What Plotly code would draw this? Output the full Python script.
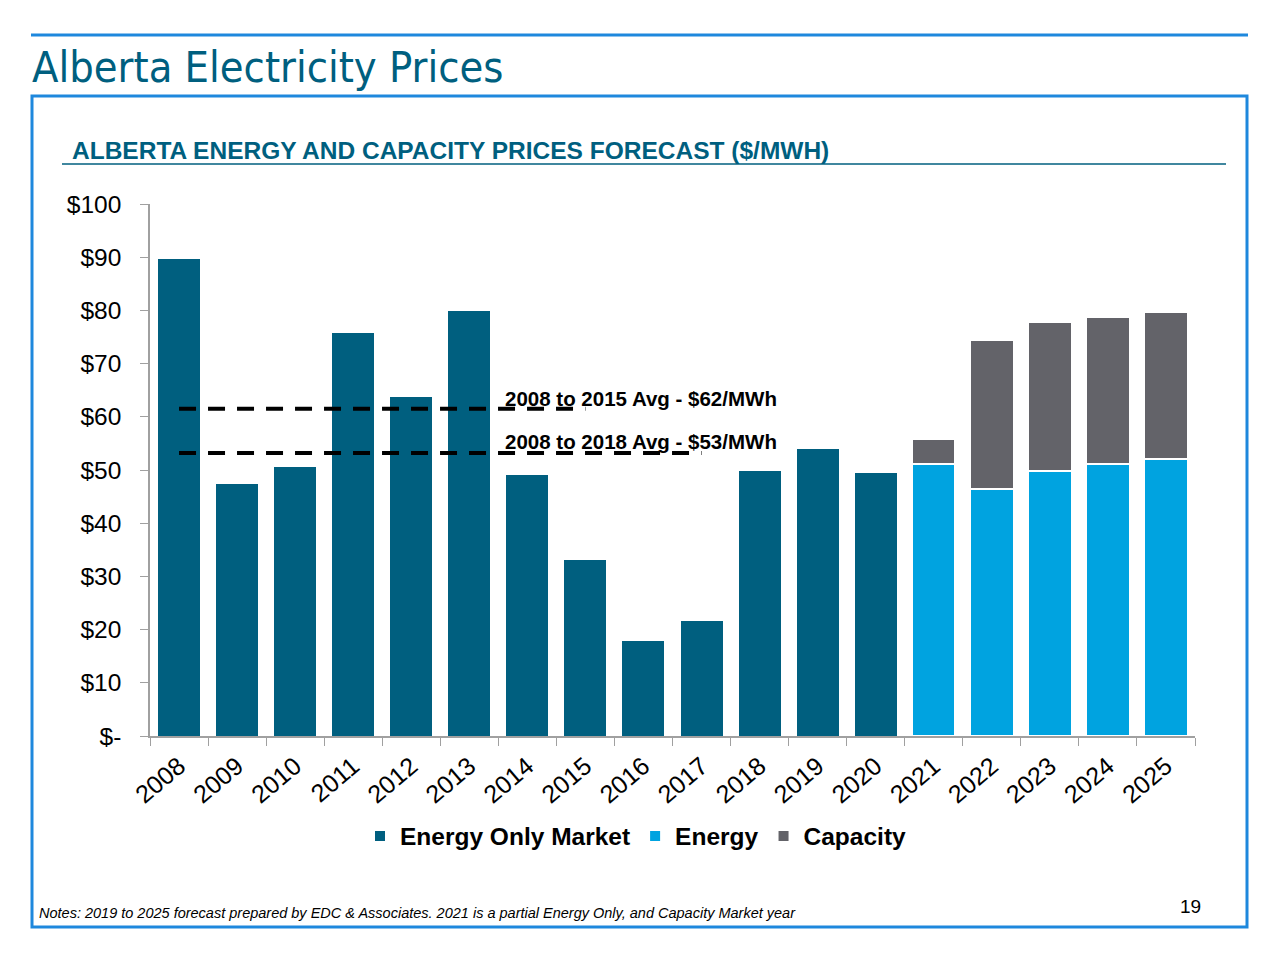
import plotly.graph_objects as go

years = [str(y) for y in range(2008, 2026)]
eom_years = years[:13]
eom_values = [89.7, 47.4, 50.6, 75.9, 63.9, 79.9, 49.1, 33.1, 18.0, 21.8, 50.0, 54.1, 49.6]
fc_years = years[13:]
energy_values = [51.1, 46.4, 49.8, 51.1, 52.1]
capacity_values = [4.7, 28.0, 28.0, 27.7, 27.6]
avg_2015 = 61.5
avg_2015_span = ["2008", "2015"]
avg_2018 = 53.2
avg_2018_span = ["2008", "2017"]
y_ticks = [0, 10, 20, 30, 40, 50, 60, 70, 80, 90, 100]
y_tick_labels = ["$-"] + [f"${v}" for v in y_ticks[1:]]

C_EOM = "#005F7F"
C_EN = "#00A3E0"
C_CAP = "#636369"
C_TITLE = "#005F7F"
C_BORDER = "#1E88DD"
FONT = "Liberation Sans, Arial, Helvetica, sans-serif"

W, H = 1280, 960
OFF = 8  # page body margin
L, R, T, B = 150, 1195, 204, 736  # plot area in page pixels

def px(x):
    return (x - L) / (R - L)

def py(y):
    return (B - y) / (B - T)

fig = go.Figure()
fig.add_trace(go.Bar(x=eom_years, y=eom_values, name="Energy Only Market",
                     marker=dict(color=C_EOM, line=dict(color="white", width=1))))
fig.add_trace(go.Bar(x=fc_years, y=energy_values, name="Energy",
                     marker=dict(color=C_EN, line=dict(color="white", width=1.5))))
fig.add_trace(go.Bar(x=fc_years, y=capacity_values, name="Capacity",
                     marker=dict(color=C_CAP, line=dict(color="white", width=1.5))))
fig.add_trace(go.Scatter(x=avg_2015_span, y=[avg_2015, avg_2015], mode="lines",
                         line=dict(color="black", width=4, dash="17px,12px"),
                         showlegend=False, hoverinfo="skip"))
fig.add_trace(go.Scatter(x=avg_2018_span, y=[avg_2018, avg_2018], mode="lines",
                         line=dict(color="black", width=4, dash="17px,12px"),
                         showlegend=False, hoverinfo="skip"))

shapes = [
    dict(type="line", xref="paper", yref="paper", x0=px(31), x1=px(1248), y0=py(35), y1=py(35),
         line=dict(color=C_BORDER, width=3)),
    dict(type="rect", xref="paper", yref="paper", x0=px(32), x1=px(1247), y0=py(96), y1=py(927),
         line=dict(color=C_BORDER, width=3)),
    dict(type="line", xref="paper", yref="paper", x0=px(62), x1=px(1226), y0=py(164), y1=py(164),
         line=dict(color=C_TITLE, width=1.5)),
]

annotations = [
    dict(text="Alberta Electricity Prices", xref="paper", yref="paper", x=px(30), y=py(67),
         xanchor="left", yanchor="middle", showarrow=False,
         font=dict(family="Liberation Sans Narrow, Arial Narrow, DejaVu Sans Condensed, sans-serif",
                   size=43, color=C_TITLE)),
    dict(text="<b>ALBERTA ENERGY AND CAPACITY PRICES FORECAST ($/MWH)</b>", xref="paper", yref="paper",
         x=px(70), y=py(150), xanchor="left", yanchor="middle", showarrow=False,
         font=dict(family=FONT, size=24.5, color=C_TITLE)),
    dict(text="<b>2008 to 2015 Avg - $62/MWh</b>", xref="paper", yref="paper", x=px(503), y=py(398),
         xanchor="left", yanchor="middle", showarrow=False, font=dict(family=FONT, size=20.5, color="black")),
    dict(text="<b>2008 to 2018 Avg - $53/MWh</b>", xref="paper", yref="paper", x=px(503), y=py(441),
         xanchor="left", yanchor="middle", showarrow=False, font=dict(family=FONT, size=20.5, color="black")),
    dict(text="<i>Notes: 2019 to 2025 forecast prepared by EDC &amp; Associates. 2021 is a partial Energy Only, and Capacity Market year</i>",
         xref="paper", yref="paper", x=px(37), y=py(913), xanchor="left", yanchor="middle", showarrow=False,
         font=dict(family=FONT, size=14.5, color="black")),
    dict(text="19", xref="paper", yref="paper", x=px(1190), y=py(906), xanchor="center", yanchor="middle",
         showarrow=False, font=dict(family=FONT, size=19, color="black")),
]

fig.update_layout(
    width=W, height=H,
    margin=dict(l=L - OFF, r=W - R + OFF, t=T - OFF, b=H - B + OFF),
    paper_bgcolor="white", plot_bgcolor="white",
    barmode="stack", bargap=0.26,
    font=dict(family=FONT, color="black"),
    shapes=shapes, annotations=annotations,
    legend=dict(orientation="h", x=px(636), y=py(836), xanchor="center", yanchor="middle",
                font=dict(family=FONT, size=24.5, color="black", weight="bold"),
                itemsizing="constant", traceorder="normal"),
    xaxis=dict(type="category", categoryorder="array", categoryarray=years,
               range=[-0.5, 17.5], tickangle=-40, tickfont=dict(size=25),
               showline=True, linecolor="#A0A0A0", linewidth=1.5,
               ticks="outside", tickson="boundaries", ticklen=8, tickcolor="#A0A0A0",
               ticklabelstandoff=4,
               showgrid=False, zeroline=False),
    yaxis=dict(range=[0, 100], tickvals=y_ticks, ticktext=y_tick_labels, tickfont=dict(size=24.5),
               showline=True, linecolor="#A0A0A0", linewidth=1.5,
               ticks="outside", ticklen=8, tickcolor="#A0A0A0",
               ticklabelstandoff=14,
               showgrid=False, zeroline=False),
    showlegend=True,
)

fig.write_html("out.html")
